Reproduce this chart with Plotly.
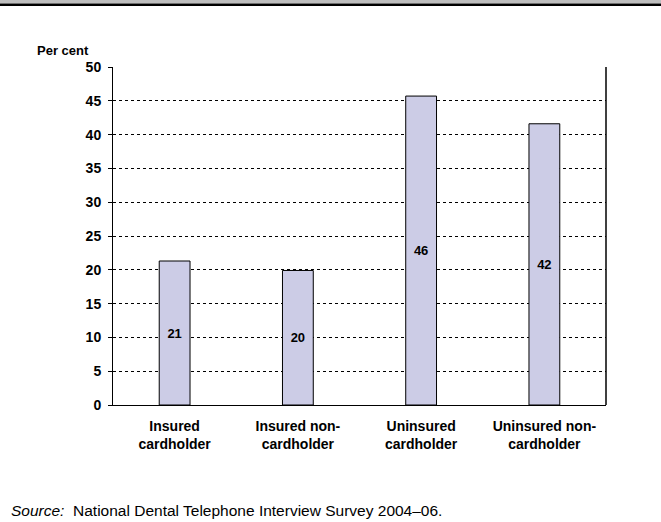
import plotly.graph_objects as go

categories = ["Insured<br>cardholder", "Insured non-<br>cardholder",
              "Uninsured<br>cardholder", "Uninsured non-<br>cardholder"]
values = [21.3, 19.9, 45.7, 41.6]
labels = ["21", "20", "46", "42"]
y_ticks = [0, 5, 10, 15, 20, 25, 30, 35, 40, 45, 50]

W, H = 661, 522
L, R, T, B = 113, 606, 67, 405
FONT = "Arial, Liberation Sans, sans-serif"

def px_y(py):
    return (B - py) / (B - T)

def px_x(px):
    return (px - L) / (R - L)

fig = go.Figure(go.Bar(
    x=categories, y=values, text=labels,
    textposition="inside", insidetextanchor="middle",
    textfont=dict(family=FONT, size=13, color="black", weight="bold"),
    marker=dict(color="#CCCCE6", line=dict(color="black", width=1)),
    width=0.25,
))

fig.update_layout(
    width=W, height=H,
    margin=dict(l=L, r=W - R, t=T, b=H - B),
    paper_bgcolor="white", plot_bgcolor="white",
    showlegend=False,
    font=dict(family=FONT, color="black"),
    xaxis=dict(showline=True, linecolor="black", linewidth=1,
               ticks="", showgrid=False, ticklabelstandoff=8,
               tickfont=dict(family=FONT, size=14, weight="bold", color="black")),
    yaxis=dict(range=[0, 50], tickvals=y_ticks, showline=True, linecolor="black",
               linewidth=1, ticks="outside", ticklen=4, tickcolor="black",
               showgrid=True, gridcolor="black", gridwidth=1, griddash="dot",
               zeroline=False, ticklabelstandoff=4,
               tickfont=dict(family=FONT, size=14, weight="bold", color="black")),
)

shapes = [
    dict(type="line", xref="paper", yref="paper", x0=1, x1=1, y0=0, y1=1,
         line=dict(color="black", width=1.5)),
    dict(type="rect", xref="paper", yref="paper", x0=px_x(0), x1=px_x(W),
         y0=px_y(3.5), y1=px_y(-1), fillcolor="#BEBEBE", line=dict(width=0)),
    dict(type="rect", xref="paper", yref="paper", x0=px_x(0), x1=px_x(W),
         y0=px_y(6), y1=px_y(3.5), fillcolor="black", line=dict(width=0)),
]
fig.update_layout(shapes=shapes)

fig.add_annotation(text="<b>Per cent</b>", xref="paper", yref="paper",
                   x=px_x(63), y=px_y(50), xanchor="center", yanchor="middle",
                   showarrow=False, font=dict(family=FONT, size=13, color="black"))
fig.add_annotation(text="<i>Source:</i>  National Dental Telephone Interview Survey 2004–06.",
                   xref="paper", yref="paper", x=px_x(9), y=px_y(510),
                   xanchor="left", yanchor="middle", showarrow=False,
                   font=dict(family=FONT, size=15.5, color="black"))

fig.write_html("out.html", config={"displayModeBar": False},
               post_script="document.body.style.margin='0';document.body.style.overflow='hidden';")
